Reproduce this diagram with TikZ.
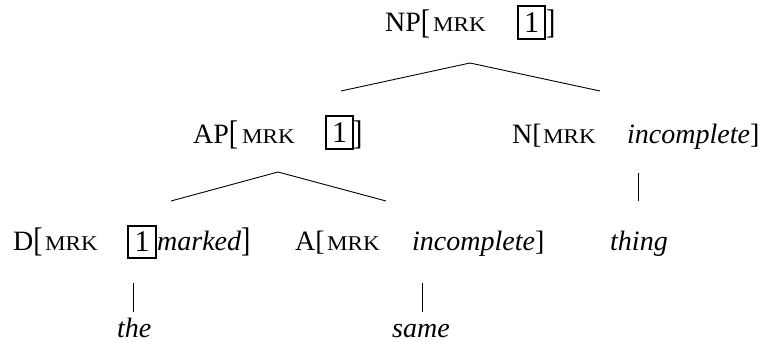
\documentclass[tikz,border=0pt]{standalone}
\usepackage{fontspec}
\setmainfont{Liberation Serif}
\newcommand{\avmL}{\raisebox{-1.5pt}{\scalebox{1}[1.22]{[}}}
\newcommand{\avmR}{\raisebox{-1.5pt}{\scalebox{1}[1.22]{]}}}
\newcommand{\mrkText}{\scalebox{1.1}[1]{MRK}}
\begin{document}
\begin{tikzpicture}[x=1pt,y=-1pt,
  txt/.style={inner sep=0pt, anchor=base west, font=\fontsize{28}{30}\selectfont},
  itx/.style={inner sep=0pt, anchor=base west, font=\fontsize{28}{30}\selectfont\itshape},
  mrk/.style={inner sep=0pt, anchor=base west, font=\fontsize{21}{22}\selectfont},
  tagbox/.style={draw, line width=1.3pt, inner sep=0pt, minimum width=27pt, minimum height=33pt, font=\fontsize{30}{30}\selectfont},
  branch/.style={line width=0.9pt}]
\useasboundingbox (0,0) rectangle (765,342);
% NP row
\node[txt] (np) at (385,32) {NP\avmL};
\node[mrk] (npm) at (433,32) {\mrkText};
\node[tagbox] (npbox) at (531.5,22.5) {1};
\node[txt] (npr) at (546,32) {\avmR};
% AP row
\node[txt] (ap) at (193,143.5) {AP\avmL};
\node[mrk] (apm) at (242,143.5) {\mrkText};
\node[tagbox] (apbox) at (339.5,132.5) {1};
\node[txt] (apr) at (353,143.5) {\avmR};
% N row
\node[txt] (n) at (512,143.5) {N[};
\node[mrk] (nm) at (543,143.5) {\mrkText};
\node[itx] (nv) at (627,143.5) {incomplete\/\upshape]};
% D row
\node[txt] (d) at (13,250) {D\avmL};
\node[mrk] (dm) at (45,250) {\mrkText};
\node[tagbox, minimum width=28pt, minimum height=32pt] (dbox) at (142,242) {1};
\node[itx] (dv) at (157,250) {marked\/\upshape\avmR};
% A row
\node[txt] (a) at (295,250) {A[};
\node[mrk] (am) at (327,250) {\mrkText};
\node[itx] (av) at (412,250) {incomplete\/\upshape]};
% thing
\node[itx] (thing) at (610,250) {thing};
% leaves
\node[itx] (the) at (117,337) {the};
\node[itx] (same) at (392,337) {same};
% connector points
\coordinate (npfoot) at (470,63);
\coordinate (aptop) at (341,91);
\coordinate (ntop) at (600,91);
\coordinate (apfoot) at (278,172);
\coordinate (dtop) at (171,201);
\coordinate (atop) at (386,201);
\coordinate (nfoot) at (638,173);
\coordinate (thingtop) at (638,201);
\coordinate (dfoot) at (133,283);
\coordinate (thetop) at (133,312);
\coordinate (afoot) at (422,283);
\coordinate (sametop) at (422,312);
% connectors
\draw[branch] (npfoot) -- (aptop);
\draw[branch] (npfoot) -- (ntop);
\draw[branch] (apfoot) -- (dtop);
\draw[branch] (apfoot) -- (atop);
\draw[branch] (nfoot) -- (thingtop);
\draw[branch] (dfoot) -- (thetop);
\draw[branch] (afoot) -- (sametop);
\end{tikzpicture}
\end{document}
